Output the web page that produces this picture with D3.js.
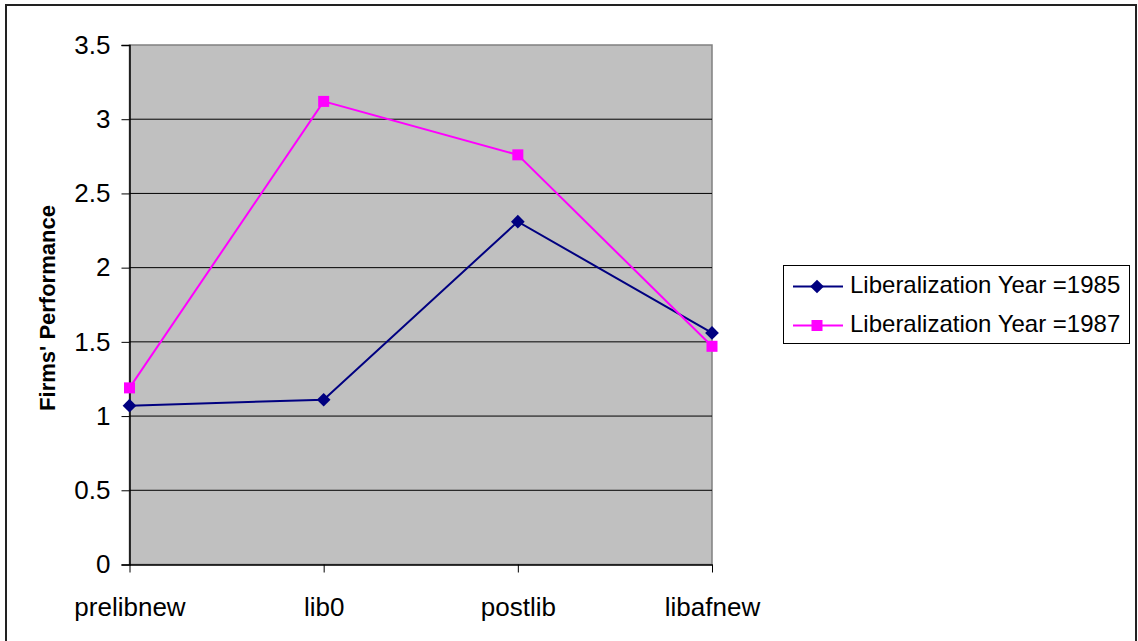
<!DOCTYPE html>
<html><head><meta charset="utf-8">
<script src="https://cdn.jsdelivr.net/npm/d3@7"></script>
<style>body{margin:0;background:#fff;}svg{display:block;}</style>
</head><body>
<svg id="c" width="1138" height="641"></svg>
<script>
const categories = ["prelibnew", "lib0", "postlib", "libafnew"];
const series1985 = [1.07, 1.11, 2.31, 1.56];
const series1987 = [1.19, 3.12, 2.76, 1.47];
const seriesNames = ["Liberalization Year =1985", "Liberalization Year =1987"];
const yTicks = [0, 0.5, 1, 1.5, 2, 2.5, 3, 3.5];
const yTitle = "Firms' Performance";

const svg = d3.select("#c");
const font = "Arial, 'Liberation Sans', sans-serif";
const L = 129.5, R = 712, T = 45, B = 564.5;

svg.append("rect").attr("x", 6).attr("y", 5).attr("width", 1130).attr("height", 650)
  .attr("fill", "#fff").attr("stroke", "#222").attr("stroke-width", 2);

const x = d3.scalePoint().domain(categories).range([L, R]);
const y = d3.scaleLinear().domain([0, 3.5]).range([B, T]);

svg.append("rect").attr("x", L).attr("y", T).attr("width", R - L).attr("height", B - T)
  .attr("fill", "#C0C0C0").attr("stroke", "#808080").attr("stroke-width", 1.5);

// gridlines
svg.append("g").selectAll("line").data(yTicks.filter(d => d > 0 && d < 3.5)).join("line")
  .attr("x1", L).attr("x2", R).attr("y1", d => y(d)).attr("y2", d => y(d))
  .attr("stroke", "#000").attr("stroke-width", 1);

// y axis
const ya = svg.append("g").attr("transform", `translate(${L},0)`)
  .call(d3.axisLeft(y).tickValues(yTicks).tickSize(8).tickPadding(11).tickFormat(d3.format("")));
ya.select(".domain").attr("stroke", "#000").attr("stroke-width", 1.5);
ya.selectAll(".tick line").attr("stroke", "#000");
ya.selectAll("text").attr("font-family", font).attr("font-size", 26).attr("fill", "#000");

// x axis
const xa = svg.append("g").attr("transform", `translate(0,${B})`)
  .call(d3.axisBottom(x).tickSize(8).tickPadding(25).tickSizeOuter(0));
xa.select(".domain").attr("stroke", "#000").attr("stroke-width", 1.5);
xa.selectAll(".tick line").attr("stroke", "#000");
xa.selectAll("text").attr("font-family", font).attr("font-size", 26).attr("fill", "#000");

svg.append("text").attr("transform", `translate(55,308) rotate(-90)`)
  .attr("text-anchor", "middle").attr("font-family", font).attr("font-size", 22)
  .attr("font-weight", "bold").text(yTitle);

const line = d3.line().x((d, i) => x(categories[i])).y(d => y(d));
const c1 = "#000080", c2 = "#FF00FF";
svg.append("path").datum(series1985).attr("d", line).attr("fill", "none").attr("stroke", c1).attr("stroke-width", 2);
svg.append("path").datum(series1987).attr("d", line).attr("fill", "none").attr("stroke", c2).attr("stroke-width", 2);

const diamond = d3.symbol().type(d3.symbolDiamond2).size(120);
svg.append("g").selectAll("path").data(series1985).join("path")
  .attr("d", diamond).attr("transform", (d, i) => `translate(${x(categories[i])},${y(d)})`).attr("fill", c1);
svg.append("g").selectAll("rect").data(series1987).join("rect")
  .attr("x", (d, i) => x(categories[i]) - 5.5).attr("y", d => y(d) - 5.5)
  .attr("width", 11).attr("height", 11).attr("fill", c2);

// legend
const lg = svg.append("g");
lg.append("rect").attr("x", 783.5).attr("y", 265.5).attr("width", 346).attr("height", 78)
  .attr("fill", "#fff").attr("stroke", "#000").attr("stroke-width", 1);
[[c1, 286.5], [c2, 325.5]].forEach(([c, ly], i) => {
  lg.append("line").attr("x1", 793).attr("x2", 843).attr("y1", ly).attr("y2", ly).attr("stroke", c).attr("stroke-width", 2);
  if (i === 0) lg.append("path").attr("d", diamond).attr("transform", `translate(817,${ly})`).attr("fill", c);
  else lg.append("rect").attr("x", 811.5).attr("y", ly - 5.5).attr("width", 11).attr("height", 11).attr("fill", c);
  lg.append("text").attr("x", 850).attr("y", ly + 6).attr("font-family", font).attr("font-size", 24)
    .attr("fill", "#000").text(seriesNames[i]);
});
</script>
</body></html>
